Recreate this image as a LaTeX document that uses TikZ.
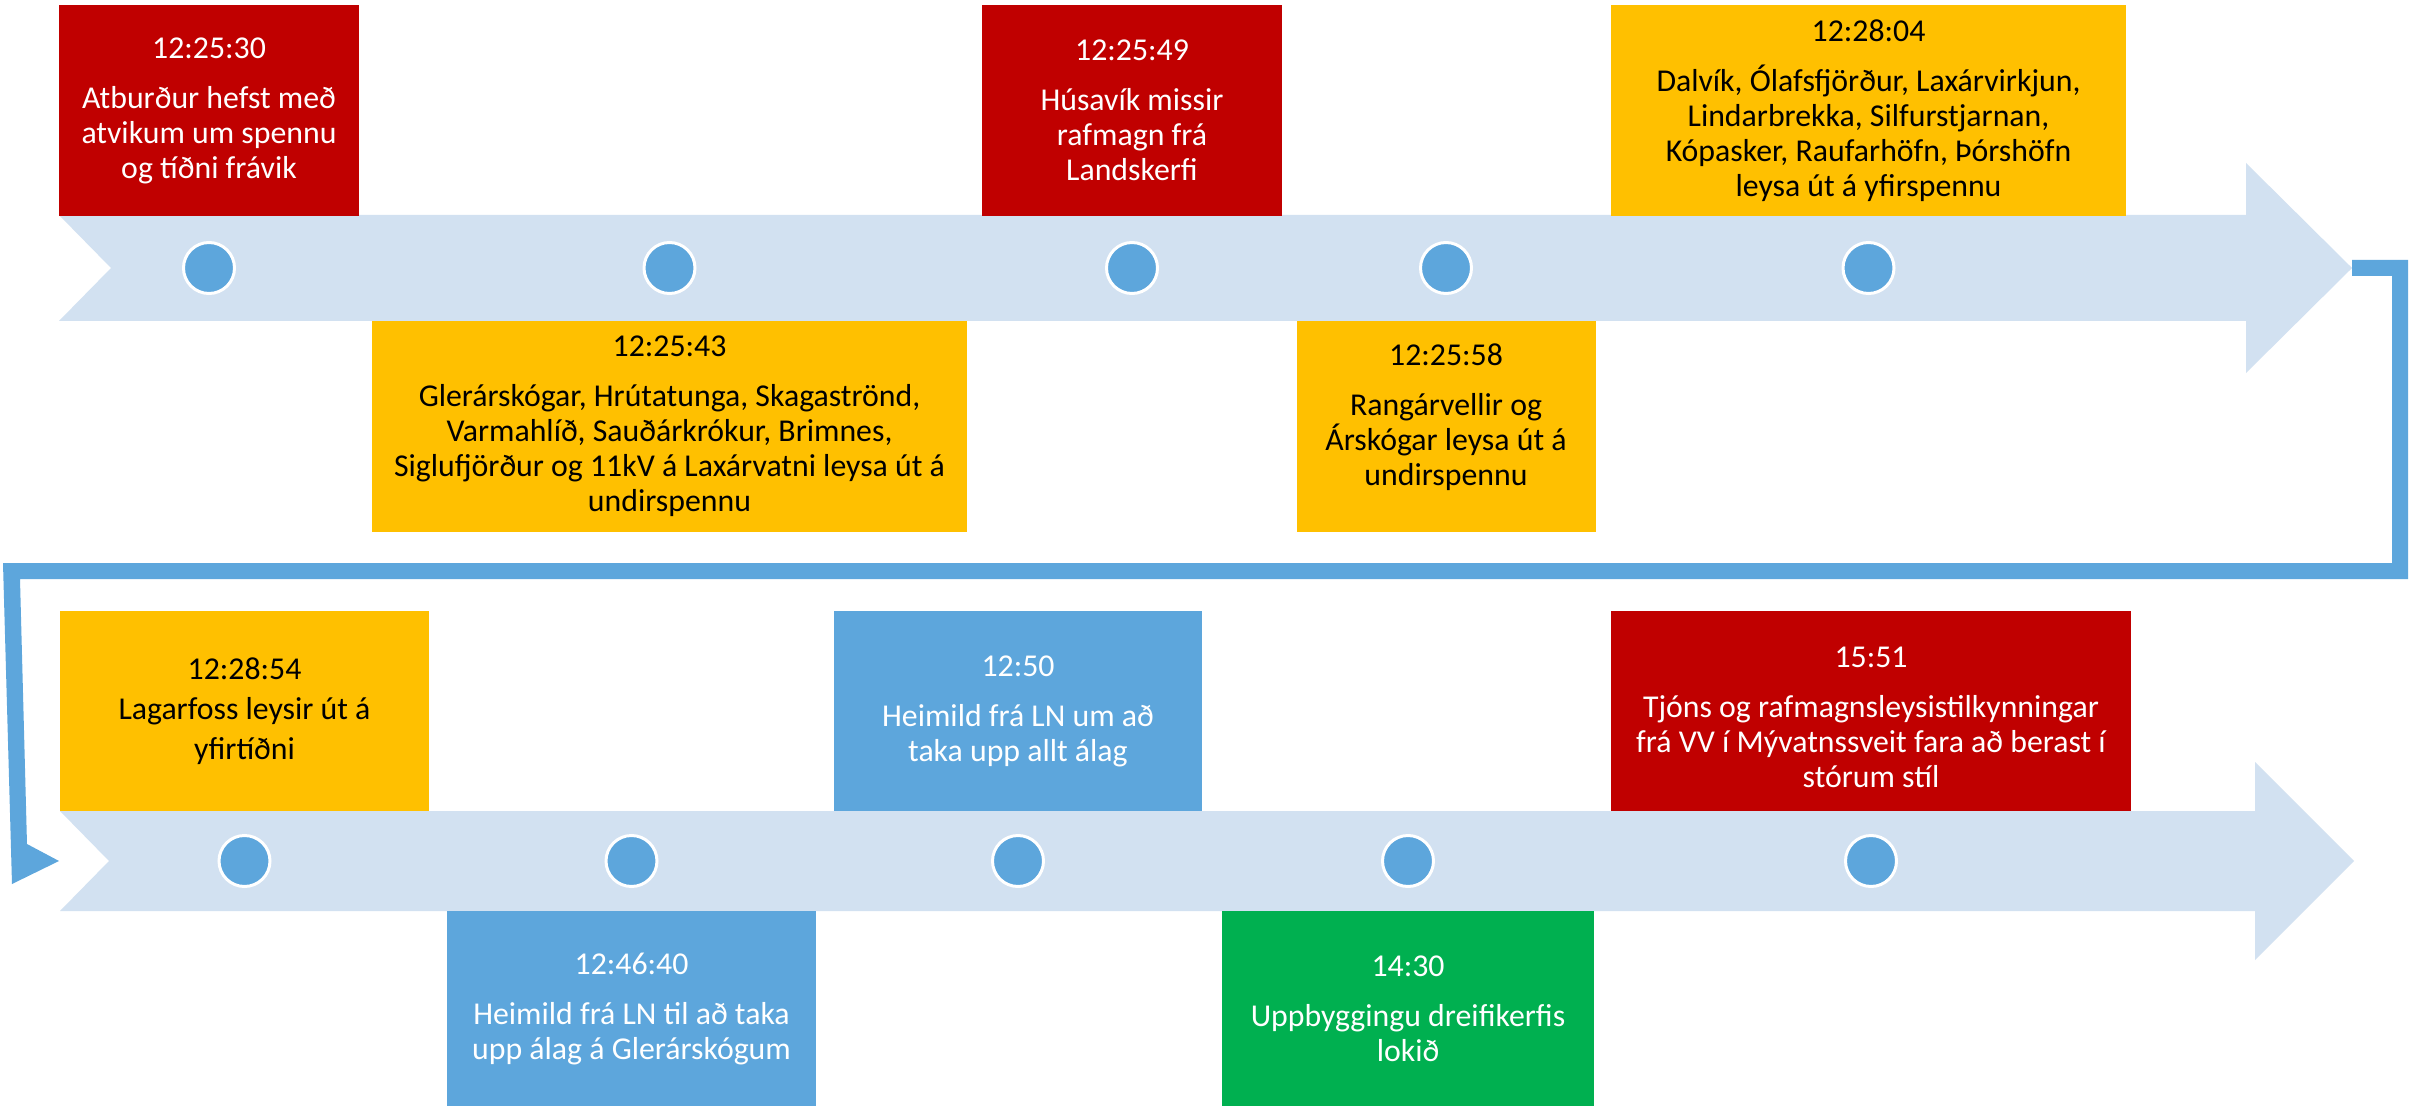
\documentclass[tikz,border=0pt]{standalone}
\usepackage{fontspec}
\setmainfont{Carlito}
\usetikzlibrary{calc}
\definecolor{cred}{HTML}{C00000}
\definecolor{cyellow}{HTML}{FFC000}
\definecolor{cblue}{HTML}{5DA6DC}
\definecolor{cgreen}{HTML}{00B050}
\definecolor{cband}{HTML}{D2E1F1}
\tikzset{
  evtext/.style={inner sep=0pt, align=center, font=\fontsize{31.8}{35}\selectfont},
  evbox/.style={rectangle, evtext},
  redbox/.style={evbox, fill=cred, text=white},
  yelbox/.style={evbox, fill=cyellow, text=black},
  bluebox/.style={evbox, fill=cblue, text=white},
  grnbox/.style={evbox, fill=cgreen, text=white},
  dot/.style={circle, inner sep=0pt, minimum size=51pt, fill=cblue, draw=white, line width=3pt},
  band/.style={fill=cband},
  conn/.style={fill=cblue}
}
\begin{document}
\begin{tikzpicture}[x=1pt,y=-1pt]
\useasboundingbox (0,0) rectangle (2415,1107);
\fill[white] (0,0) rectangle (2415,1107);
% bands
\fill[band] (59,215) -- (2246,215) -- (2246,163) -- (2352,268) -- (2246,373) -- (2246,321) -- (59,321) -- (111,268) -- cycle;
\fill[band] (60,811) -- (2255,811) -- (2255,762) -- (2354,861) -- (2255,960) -- (2255,911) -- (60,911) -- (109,861) -- cycle;
\coordinate (tip1) at (2352,268);
\coordinate (start2) at (59,861);
% connector
\fill[conn] ($(tip1)+(0,-8)$) -- (2408,260) -- (2408,579) -- (20,579) -- (27,844) -- (start2) -- (12,884) -- (3,563) -- (2392,563) -- (2392,276) -- ($(tip1)+(0,8)$) -- cycle;
% top row boxes
\node[redbox, minimum width=300pt, minimum height=211pt] (e1) at (209,110.5) {12:25:30\\[15pt]Atburður hefst með\\atvikum um spennu\\og tíðni frávik};
\node[yelbox, minimum width=595pt, minimum height=211pt] (e2) at (669.5,426.5) {12:25:43\\[15pt]Glerárskógar, Hrútatunga, Skagaströnd,\\Varmahlíð, Sauðárkrókur, Brimnes,\\Siglufjörður og 11kV á Laxárvatni leysa út á\\undirspennu};
\node[redbox, minimum width=300pt, minimum height=211pt] (e3) at (1132,110.5) {12:25:49\\[15pt]Húsavík missir\\rafmagn frá\\Landskerfi};
\node[yelbox, minimum width=299pt, minimum height=211pt] (e4) at (1446,426.5) {};
\node[evtext, text=black] (e4t) at (1446,417) {12:25:58\\[15pt]Rangárvellir og\\Árskógar leysa út á\\undirspennu};
\node[yelbox, minimum width=515pt, minimum height=211pt] (e5) at (1868.5,110.5) {12:28:04\\[15pt]Dalvík, Ólafsfjörður, Laxárvirkjun,\\Lindarbrekka, Silfurstjarnan,\\Kópasker, Raufarhöfn, Þórshöfn\\leysa út á yfirspennu};
% bottom row boxes
\node[yelbox, minimum width=369pt, minimum height=200pt] (e6) at (244.5,711) {12:28:54\\[5pt]Lagarfoss leysir út á\\[5pt]yfirtíðni};
\node[bluebox, minimum width=369pt, minimum height=195pt] (e7) at (631.5,1008.5) {12:46:40\\[15pt]Heimild frá LN til að taka\\upp álag á Glerárskógum};
\node[bluebox, minimum width=368pt, minimum height=200pt] (e8) at (1018,711) {12:50\\[15pt]Heimild frá LN um að\\taka upp allt álag};
\node[grnbox, minimum width=372pt, minimum height=195pt] (e9) at (1408,1008.5) {14:30\\[15pt]Uppbyggingu dreifikerfis\\lokið};
\node[redbox, minimum width=520pt, minimum height=200pt] (e10) at (1871,711) {};
\node[evtext, text=white] (e10t) at (1871,717) {15:51\\[15pt]Tjóns og rafmagnsleysistilkynningar\\frá VV í Mývatnssveit fara að berast í\\stórum stíl};
% dots
\node[dot] (d1) at (209,268) {};
\node[dot] (d2) at (669.5,268) {};
\node[dot] (d3) at (1132,268) {};
\node[dot] (d4) at (1446,268) {};
\node[dot] (d5) at (1868.5,268) {};
\node[dot] (d6) at (244.5,861) {};
\node[dot] (d7) at (631.5,861) {};
\node[dot] (d8) at (1018,861) {};
\node[dot] (d9) at (1408,861) {};
\node[dot] (d10) at (1871,861) {};
\end{tikzpicture}
\end{document}
